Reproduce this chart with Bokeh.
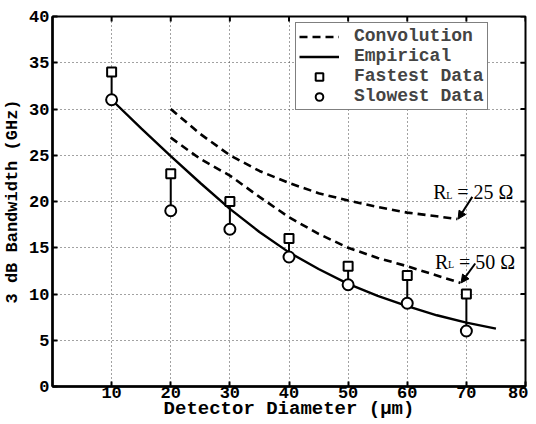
import math
from bokeh.plotting import figure
from bokeh.models import (Range1d, FixedTicker, Legend, LegendItem,
                          Label, Arrow, NormalHead)
from bokeh.embed import file_html
from bokeh.resources import INLINE

# ---- data ----
diam = [10, 20, 30, 40, 50, 60, 70]
fastest = [34, 23, 20, 16, 13, 12, 10]
slowest = [31, 19, 17, 14, 11, 9, 6]

emp_x = [10, 15, 20, 25, 30, 35, 40, 45, 50, 55, 60, 65, 70, 75]
emp_y = [31.0, 27.9, 24.9, 22.0, 19.2, 16.7, 14.5, 12.7, 11.1, 9.8, 8.7, 7.7, 6.9, 6.25]

conv25_x = [20, 25, 30, 35, 40, 45, 50, 55, 60, 65, 68.5]
conv25_y = [30.0, 27.3, 25.0, 23.3, 22.0, 20.9, 20.1, 19.4, 18.8, 18.4, 18.1]

conv50_x = [20, 25, 30, 35, 40, 45, 50, 55, 60, 65, 69]
conv50_y = [26.9, 24.6, 22.8, 20.5, 18.3, 16.5, 15.0, 13.9, 13.0, 12.0, 11.2]

x_ticks = [10, 20, 30, 40, 50, 60, 70, 80]
y_ticks = [0, 5, 10, 15, 20, 25, 30, 35, 40]
X_MIN, X_MAX = 0, 80
Y_MIN, Y_MAX = 0, 40

FONT = "Liberation Mono"
SERIF = "Liberation Serif"
W, H = 528, 424

p = figure(width=W, height=H, x_range=Range1d(X_MIN, X_MAX), y_range=Range1d(Y_MIN, Y_MAX),
           output_backend="svg", toolbar_location=None,
           min_border_left=45, min_border_right=3, min_border_top=16,
           min_border_bottom=38, background_fill_color="white",
           border_fill_color="white")
p.outline_line_color = "black"
p.outline_line_width = 2

p.xaxis.ticker = FixedTicker(ticks=x_ticks)
p.yaxis.ticker = FixedTicker(ticks=y_ticks)
for ax in (p.xaxis[0], p.yaxis[0]):
    ax.axis_line_width = 2.5
    ax.axis_line_color = "black"
    ax.major_tick_in = 5
    ax.major_tick_out = 0
    ax.major_tick_line_width = 2
    ax.minor_tick_line_color = None
    ax.major_label_text_font = FONT
    ax.major_label_text_font_style = "bold"
    ax.major_label_text_font_size = "17px"
    ax.major_label_text_color = "black"
    ax.axis_label_text_font = FONT
    ax.axis_label_text_font_style = "bold"
    ax.axis_label_text_color = "black"
p.xaxis.axis_label = "Detector Diameter (\u03bcm)"
p.yaxis.axis_label = "3 dB Bandwidth (GHz)"
p.xaxis.axis_label_text_font_size = "19px"
p.yaxis.axis_label_text_font_size = "17px"
p.xaxis.major_label_standoff = 0
p.xaxis.axis_label_standoff = -3
p.yaxis.major_label_standoff = 3
p.yaxis.axis_label_standoff = 4

p.xgrid.ticker = FixedTicker(ticks=x_ticks)
p.ygrid.ticker = FixedTicker(ticks=y_ticks)
for g in (p.xgrid[0], p.ygrid[0]):
    g.grid_line_color = "#444444"
    g.grid_line_dash = "1 3"
    g.grid_line_width = 1

# inward ticks on the top and right edges of the box (clipped to the frame)
p.scatter(x=[X_MAX] * len(y_ticks), y=y_ticks, marker="dash", size=10,
          line_color="black", line_width=2)
p.scatter(x=x_ticks, y=[Y_MAX] * len(x_ticks), marker="dash", size=10,
          angle=math.pi / 2, line_color="black", line_width=2)

# curves
r25 = p.line(conv25_x, conv25_y, line_color="black", line_width=2.6, line_dash="8 5")
r50 = p.line(conv50_x, conv50_y, line_color="black", line_width=2.6, line_dash="8 5")
remp = p.line(emp_x, emp_y, line_color="black", line_width=2.4)

p.segment(x0=diam, y0=slowest, x1=diam, y1=fastest, line_color="black", line_width=2)
rsq = p.scatter(diam, fastest, marker="square", size=9, fill_color="white",
                line_color="black", line_width=2)
rci = p.scatter(diam, slowest, marker="circle", size=11, fill_color="white",
                line_color="black", line_width=2)

legend = Legend(items=[LegendItem(label="Convolution", renderers=[r25]),
                       LegendItem(label="Empirical", renderers=[remp]),
                       LegendItem(label="Fastest Data", renderers=[rsq]),
                       LegendItem(label="Slowest Data", renderers=[rci])],
                location=(243, 276))
legend.border_line_color = "black"
legend.border_line_width = 1.5
legend.background_fill_color = "white"
legend.background_fill_alpha = 1
legend.label_text_font = FONT
legend.label_text_font_style = "bold"
legend.label_text_font_size = "18px"
legend.label_height = 19
legend.glyph_height = 19
legend.glyph_width = 40
legend.label_standoff = 15
legend.spacing = 0
legend.padding = 3
legend.margin = 0
p.add_layout(legend)

# annotations
for (x, y, val) in [(64.4, 21.0, "= 25 \u03a9"), (64.7, 13.5, "= 50 \u03a9")]:
    p.add_layout(Label(x=x, y=y, text="R", text_font=SERIF, text_font_size="20px",
                       text_baseline="alphabetic", text_color="black"))
    p.add_layout(Label(x=x, y=y, x_offset=13, y_offset=-3, text="L", text_font=SERIF,
                       text_font_size="10px", text_baseline="alphabetic",
                       text_color="black"))
    p.add_layout(Label(x=x, y=y, x_offset=24, text=val, text_font=SERIF,
                       text_font_size="20px", text_baseline="alphabetic",
                       text_color="black"))

for (xs, ys, xe, ye) in [(71.0, 20.5, 68.6, 18.1), (71.5, 13.3, 69.1, 11.2)]:
    p.add_layout(Arrow(x_start=xs, y_start=ys, x_end=xe, y_end=ye, line_width=2,
                       line_color="black",
                       end=NormalHead(size=8, fill_color="black", line_color="black")))

open("out.html", "w").write(file_html(p, INLINE))
